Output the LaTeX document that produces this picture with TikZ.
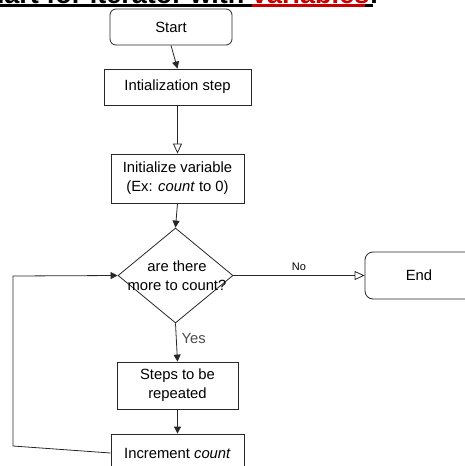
\documentclass[tikz,border=0pt]{standalone}
\usepackage{fontspec}
\setmainfont{Liberation Sans}
\usetikzlibrary{arrows.meta,shapes.geometric}
\definecolor{titlered}{RGB}{200,0,0}
\definecolor{linec}{RGB}{40,40,40}
\begin{document}
\begin{tikzpicture}[x=1pt,y=-1pt,
  every node/.style={font=\fontsize{14.8}{19}\selectfont, text=black},
  boxst/.style={draw=linec, line width=0.8pt, rectangle, inner sep=0pt, align=center},
  termst/.style={boxst, rounded corners=6pt},
  flow/.style={draw=linec, line width=0.8pt, -{Triangle[width=7pt,length=7pt]}},
  hollow/.style={draw=linec, line width=0.8pt, -{Triangle[open,width=9pt,length=10pt,fill=white]}},
  titlest/.style={inner sep=0pt, font=\fontsize{27}{30}\selectfont\bfseries}
]
\useasboundingbox (0,0) rectangle (465,466);
\clip (0,0) rectangle (465,466);
\fill[white] (0,0) rectangle (465,466);

% title (cut off at the top)
\node[titlest, anchor=base east] (t1) at (244.5,3.5) {Flowchart for iterator with};
\node[titlest, anchor=base west, text=titlered] (t2) at (252,3.5) {variables};
\node[titlest, anchor=base west] (t3) at (t2.base east) {:};
\fill[black] (0,4) rectangle (373,6.8);
\fill[titlered] (252,4) rectangle (365,6.8);

% nodes
\node[termst, minimum width=122pt, minimum height=36pt] (start) at (171,27) {Start};
\node[boxst, minimum width=147pt, minimum height=36pt] (init) at (177.5,87) {Intialization step};
\node[boxst, minimum width=133pt, minimum height=49pt] (var) at (177.5,178.5) {Initialize variable\\(Ex: \textit{count} to 0)};
\node[diamond, draw=linec, line width=0.8pt, minimum width=115pt, minimum height=95pt, inner sep=0pt] (dec) at (175.5,275.5) {};
\node[align=center, inner sep=0pt] (dectext) at (177,276) {are there\\more to count?};
\node[boxst, rounded corners=8pt, minimum width=108pt, minimum height=47pt] (end) at (419,275.5) {End};
\node[boxst, minimum width=121pt, minimum height=47pt] (steps) at (177.5,385.5) {Steps to be\\repeated};
\node[boxst, minimum width=133pt, minimum height=38pt] (incr) at (177.5,453) {Increment \textit{count}};
\coordinate (loopb) at (13,446);
\coordinate (loopt) at (13,276);

% connectors
\draw[flow] (start.south) -- (init.north);
\draw[hollow] (init.south) -- (var.north);
\draw[flow] (var.south) -- (dec.north);
\draw[hollow] (dec.east) -- node[above=4pt, inner sep=0pt, font=\fontsize{11}{13}\selectfont] (nolab) {No} (end.west);
\draw[flow] (dec.south) -- node[right=5pt, pos=0.4, inner sep=0pt, text=black!70] (yeslab) {Yes} (steps.north);
\draw[flow] (steps.south) -- (incr.north);
\draw[flow] (incr.west) -- (loopb) -- (loopt) -- (dec.west);
\end{tikzpicture}
\end{document}
